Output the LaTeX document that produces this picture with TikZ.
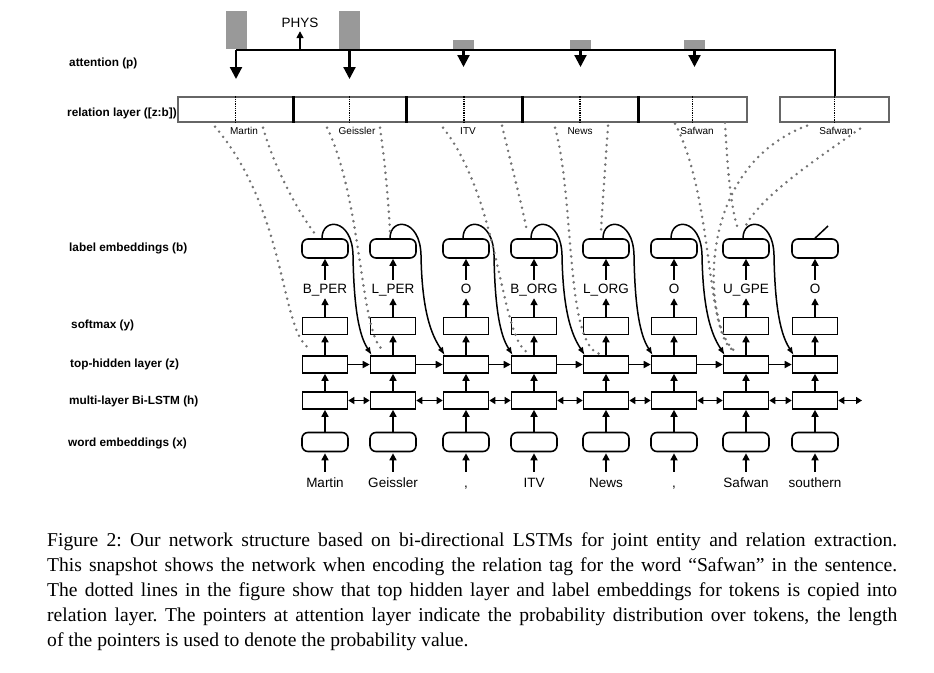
\documentclass[tikz,border=0pt]{standalone}
\usepackage{fontspec}
\setmainfont{Liberation Serif}
\setsansfont{Liberation Sans}
\usetikzlibrary{arrows.meta}
\frenchspacing

\begin{document}
\begin{tikzpicture}[x=1pt, y=-1pt, font=\sffamily,
        cell/.style={rectangle, draw, line width=1.6pt, minimum width=45pt, minimum height=17pt, inner sep=0pt},
        emb/.style={rectangle, draw, line width=1.6pt, rounded corners=6pt, minimum width=46pt, minimum height=19pt, inner sep=0pt},
        word/.style={anchor=base, inner sep=0pt, text height=10pt, text depth=3pt, font=\sffamily\fontsize{13.5}{15}\selectfont},
        layer/.style={anchor=west, inner sep=0pt, font=\sffamily\bfseries\fontsize{11.8}{13}\selectfont},
        rel/.style={rectangle, draw=black!60, line width=1.3pt, minimum height=25pt, inner sep=0pt},
        relname/.style={inner sep=0pt, font=\sffamily\fontsize{10}{12}\selectfont},
        bar/.style={fill=black!40, draw=none, minimum width=21pt, inner sep=0pt, anchor=south},
        arrow/.style={draw, line width=1.6pt, -{Triangle[length=7pt,width=7pt]}},
        biarrow/.style={draw, line width=1.6pt, {Triangle[length=6pt,width=7pt]}-{Triangle[length=6pt,width=7pt]}},
        bigarrow/.style={draw, line width=2.2pt, -{Triangle[length=12pt,width=12pt]}},
        loop/.style={draw, line width=1.5pt, -{Latex[length=8pt,width=6pt]}},
        copy/.style={draw=black!55, line width=2.8pt, line cap=round, dash pattern=on 0pt off 6.5pt},
        caption/.style={anchor=north west, text width=850pt, align=justify, inner sep=0pt, font=\rmfamily\fontsize{19.6}{25}\selectfont}
    ]
    \useasboundingbox (0,0) rectangle (934,672);

    % Layer names
    \node[layer] (lp) at (69,63) {attention (p)};
    \node[layer] (lr) at (67,113) {relation layer ([z:b])};
    \node[layer] (lb) at (69,248) {label embeddings (b)};
    \node[layer] (ly) at (71,325) {softmax (y)};
    \node[layer] (lz) at (70,364) {top-hidden layer (z)};
    \node[layer] (lh) at (69,401) {multi-layer Bi-LSTM (h)};
    \node[layer] (lx) at (68,443) {word embeddings (x)};

    % One column per token
    \foreach \i/\c/\w/\t in {1/325/Martin/B\_PER, 2/393/Geissler/L\_PER, 3/466/{,}/O, 4/534/ITV/B\_ORG,
                             5/606/News/L\_ORG, 6/674/{,}/O, 7/746/Safwan/U\_GPE, 8/815/southern/O} {
        \node[word] (w\i) at (\c,487) {\w};
        \node[emb] (x\i) at (\c,442) {};
        \node[cell] (h\i) at (\c,400.5) {};
        \node[cell] (z\i) at (\c,364.5) {};
        \node[cell] (y\i) at (\c,326) {};
        \node[word] (t\i) at (\c,293) {\t};
        \node[emb] (b\i) at (\c,248.5) {};
        \coordinate (m\i) at (\c+28,255);
        \draw[arrow, shorten <=5pt, shorten >=1pt] (w\i.north) -- (x\i.south);
        \draw[arrow] (x\i.north) -- (h\i.south);
        \draw[arrow] (h\i.north) -- (z\i.south);
        \draw[arrow] (z\i.north) -- (y\i.south);
        \draw[arrow, shorten >=2pt] (y\i.north) -- (t\i.south);
        \draw[arrow, shorten <=3pt] (t\i.north) -- (b\i.south);
    }

    % Recurrent connections
    \foreach \i/\j in {1/2,2/3,3/4,4/5,5/6,6/7,7/8} {
        \draw[arrow] (z\i.east) -- (z\j.west);
        \draw[biarrow] (h\i.east) -- (h\j.west);
        \draw[loop] ([xshift=-3pt]b\i.north) .. controls +(0,-21) and +(-1,-37) .. (m\i)
            .. controls +(1,65) and +(-10,-16) .. ([xshift=2pt]z\j.north west);
    }
    \coordinate (hend) at (862,400.5);
    \draw[biarrow] (h8.east) -- (hend);
    \coordinate (e8) at (828,226);
    \draw[line width=1.5pt] (b8.north) -- (e8);

    % Relation layer
    \foreach \k/\c/\cw/\lx/\n in {1/235.5/115/244/Martin, 2/349.5/113/357/Geissler, 3/464/116/468/ITV,
                                  4/580/116/580/News, 5/692.5/109/697/Safwan, 6/834.5/109/836/Safwan} {
        \node[rel, minimum width=\cw pt] (r\k) at (\c,109.5) {};
        \draw[densely dotted, line width=1.3pt] (r\k.north) -- (r\k.south);
        \node[relname] (n\k) at (\lx,131) {\n};
    }
    \foreach \k in {1,...,4}
        \draw[line width=2.5pt] (r\k.north east) -- (r\k.south east);

    % Attention
    \foreach \k/\c/\len/\bh in {1/236/79/38, 2/349.5/79/38, 3/463.5/67/9, 4/580.5/67/9, 5/694.5/67/9} {
        \coordinate (a\k) at (\c,50);
        \coordinate (p\k) at (\c,\len);
        \node[bar, minimum height=\bh pt] (g\k) at (\c,49) {};
        \draw[bigarrow] (a\k) -- (p\k);
    }
    \coordinate (a6) at (834.5,50);
    \draw[line width=2pt] (a1) -- (a6) -- (r6.north);
    \node[word] (phys) at (300,27) {PHYS};
    \coordinate (q) at (300,50);
    \draw[arrow, shorten >=1pt] (q) -- (phys.south);

    % Copied into relation layer
    \draw[copy] ([shift={(-20.5,4)}]r1.south) .. controls (290,215) and (280,340) .. ([shift={(-13,-6)}]z1.north);
    \draw[copy] ([shift={(27.5,5)}]r1.south) .. controls (275,170) and (300,215) .. ([shift={(-9,-3)}]b1.north);
    \draw[copy] ([shift={(-22.5,5)}]r2.south) .. controls (362,200) and (360,330) .. ([shift={(-11,-6)}]z2.north);
    \draw[copy] ([shift={(30.5,5)}]r2.south) .. controls (386,170) and (389,210) .. ([shift={(-3,-5)}]b2.north);
    \draw[copy] ([shift={(-21,5)}]r3.south) .. controls (500,200) and (500,335) .. ([shift={(-7,-3)}]z4.north);
    \draw[copy] ([shift={(38,3)}]r3.south) .. controls (510,160) and (522,205) .. ([shift={(-7,-7)}]b4.north);
    \draw[copy] ([shift={(-25,5)}]r4.south) .. controls (575,200) and (565,345) .. ([shift={(-6,-1)}]z5.north);
    \draw[copy] ([shift={(28,3)}]r4.south) .. controls (605,170) and (602,210) .. ([shift={(-5,-7)}]b5.north);
    \draw[copy] ([shift={(-17.5,1)}]r5.south) .. controls (715,200) and (705,340) .. ([shift={(-11,-4)}]z7.north);
    \draw[copy] ([shift={(32.5,0)}]r5.south) .. controls (727,160) and (730,205) .. ([shift={(-8,-9)}]b7.north);
    \draw[copy] ([shift={(-27.5,3)}]r6.south) .. controls (690,170) and (705,330) .. ([shift={(-11,-4)}]z7.north);
    \draw[copy] ([shift={(25.5,6)}]r6.south) .. controls (830,150) and (760,195) .. ([shift={(-1,-11)}]b7.north);

    % Caption
    \node[caption] (cap) at (47,532) {Figure 2: Our network structure based on bi-directional LSTMs for joint entity and relation extraction.\linebreak
        This snapshot shows the network when encoding the relation tag for the word “Safwan” in the sentence.\linebreak
        The dotted lines in the figure show that top hidden layer and label embeddings for tokens is copied into\linebreak
        relation layer. The pointers at attention layer indicate the probability distribution over tokens, the length\linebreak
        of the pointers is used to denote the probability value.};
\end{tikzpicture}
\end{document}
